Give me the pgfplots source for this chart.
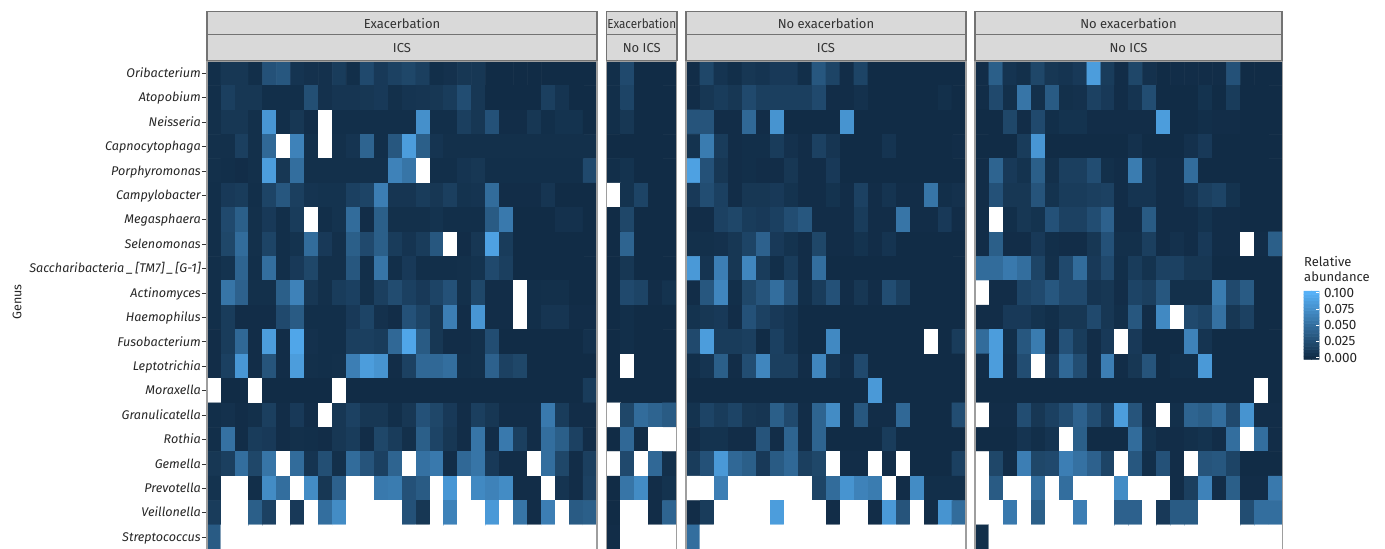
\documentclass[border=0pt]{standalone}
\usepackage{fontspec}
\setmainfont{Fira Sans}
\usepackage{pgfplots}
\pgfplotsset{compat=1.18}
% out of range cells (typed 110) are white, as in the original
\pgfplotsset{
  colormap={abund}{rgb255(0pt)=(17,44,70) rgb255(100pt)=(86,177,247) rgb255(101pt)=(255,255,255) rgb255(110pt)=(255,255,255)},
  panel/.style={
    scale only axis, height=488.4pt, anchor=south west,
    ymin=-0.5, ymax=19.5, y dir=reverse,
    xtick=\empty, ytick=\empty,
    point meta min=0, point meta max=110,
    axis on top,
    axis line style={draw=black!38, line width=1.3pt},
  },
  cells/.style={matrix plot*, shader=faceted, faceted color=mapped color, line width=0.6pt, mesh/cols=#1, point meta=explicit},
}
\newcommand\striplabel[4]{%
  \draw[fill=black!15, draw=black!55, line width=1.3pt] (#1,514.5) rectangle (#2,537.5);
  \draw[fill=black!15, draw=black!55, line width=1.3pt] (#1,488.6) rectangle (#2,514.5);
  \node[text=black!80, font=\fontsize{13}{15}\selectfont] at ({(#1+#2)/2},525) {#3};
  \node[text=black!80, font=\fontsize{13}{15}\selectfont] at ({(#1+#2)/2},500.5) {#4};
}
\begin{document}
\begin{tikzpicture}[x=1pt,y=1pt]
\useasboundingbox (0,0) rectangle (1385,549);

\begin{axis}[panel, at={(207pt,-0.4pt)}, width=390pt, xmin=-0.5, xmax=27.5,
  ytick={0,...,19},
  yticklabels={Oribacterium,Atopobium,Neisseria,Capnocytophaga,Porphyromonas,Campylobacter,Megasphaera,Selenomonas,Saccharibacteria\kern2.2pt\_\kern2.2pt[TM7]\kern2.2pt\_\kern2.2pt[G-1],Actinomyces,Haemophilus,Fusobacterium,Leptotrichia,Moraxella,Granulicatella,Rothia,Gemella,Prevotella,Veillonella,Streptococcus},
  tick align=outside, major tick length=5pt, ytick pos=left,
  y tick style={draw=black!80, line width=0.7pt},
  yticklabel style={font=\itshape\fontsize{12.6}{14}\selectfont, text=black!85, inner sep=1pt, text height=8.5pt, text depth=2.5pt, yshift=-1.2pt},
]
\addplot[cells=28] table[header=false, row sep=crcr, x expr={mod(\coordindex,28)}, y expr={floor((\coordindex+0.5)/28)}, meta index=0] {
2\\8\\8\\2\\28\\32\\6\\4\\4\\12\\2\\22\\10\\16\\20\\14\\2\\4\\8\\8\\0\\0\\0\\0\\0\\0\\0\\0\\
2\\14\\8\\8\\2\\2\\2\\26\\4\\7\\7\\8\\10\\3\\6\\7\\8\\12\\25\\8\\0\\0\\0\\0\\14\\6\\0\\0\\
3\\8\\8\\3\\80\\2\\8\\1\\110\\2\\2\\2\\2\\2\\2\\75\\2\\2\\14\\8\\28\\1\\1\\8\\2\\5\\5\\0\\
3\\3\\14\\3\\45\\110\\65\\3\\110\\3\\6\\42\\2\\32\\85\\38\\6\\3\\3\\3\\3\\3\\3\\3\\3\\3\\3\\3\\
3\\2\\1\\3\\85\\8\\50\\3\\3\\3\\3\\3\\3\\65\\55\\110\\2\\2\\6\\8\\2\\2\\2\\2\\2\\2\\2\\22\\
2\\10\\12\\2\\18\\32\\14\\6\\5\\5\\15\\18\\62\\7\\7\\12\\8\\14\\5\\6\\48\\1\\1\\1\\7\\0\\0\\0\\
2\\22\\38\\3\\10\\2\\12\\110\\2\\5\\48\\1\\38\\3\\3\\3\\5\\2\\2\\2\\35\\58\\0\\0\\0\\4\\4\\0\\
2\\20\\48\\3\\18\\2\\5\\48\\10\\3\\38\\22\\38\\12\\6\\12\\32\\110\\1\\8\\88\\12\\0\\0\\0\\0\\0\\0\\
2\\5\\42\\2\\50\\2\\10\\20\\3\\3\\32\\2\\55\\2\\10\\2\\2\\2\\3\\5\\22\\14\\0\\0\\0\\0\\0\\0\\
2\\55\\40\\3\\3\\38\\65\\8\\3\\12\\15\\3\\14\\24\\15\\10\\18\\28\\3\\20\\1\\1\\110\\2\\3\\3\\0\\0\\
2\\12\\1\\1\\1\\22\\35\\2\\2\\2\\10\\18\\4\\1\\28\\18\\8\\62\\1\\80\\1\\1\\110\\2\\7\\7\\1\\1\\
1\\12\\45\\1\\85\\1\\92\\4\\2\\2\\14\\14\\12\\45\\92\\35\\8\\1\\1\\3\\25\\0\\0\\0\\0\\0\\0\\4\\
1\\15\\80\\1\\30\\1\\85\\3\\2\\3\\62\\85\\78\\1\\16\\45\\45\\50\\2\\3\\40\\16\\20\\0\\0\\0\\0\\0\\
110\\0\\0\\110\\0\\0\\0\\0\\0\\110\\0\\0\\0\\0\\0\\0\\0\\0\\0\\0\\0\\0\\0\\0\\0\\0\\0\\12\\
2\\4\\1\\3\\14\\1\\10\\1\\110\\8\\16\\8\\8\\2\\8\\28\\20\\10\\1\\14\\8\\1\\1\\1\\58\\12\\1\\1\\
2\\52\\1\\12\\10\\1\\3\\2\\1\\8\\12\\1\\20\\12\\3\\38\\18\\8\\1\\55\\1\\58\\14\\1\\50\\38\\16\\1\\
8\\14\\50\\20\\55\\110\\48\\6\\26\\3\\48\\30\\15\\42\\110\\52\\58\\1\\45\\55\\10\\1\\1\\110\\50\\20\\1\\14\\
5\\110\\110\\2\\72\\50\\110\\72\\8\\40\\110\\110\\58\\60\\28\\35\\110\\80\\110\\70\\65\\72\\1\\1\\110\\6\\1\\16\\
12\\110\\110\\38\\16\\110\\10\\110\\50\\72\\110\\110\\110\\110\\28\\8\\110\\65\\110\\110\\82\\110\\55\\1\\62\\110\\35\\38\\
35\\110\\110\\110\\110\\110\\110\\110\\110\\110\\110\\110\\110\\110\\110\\110\\110\\110\\110\\110\\110\\110\\110\\110\\110\\110\\110\\110\\
};
\end{axis}

\begin{axis}[panel, at={(606.5pt,-0.4pt)}, width=70pt, xmin=-0.5, xmax=4.5]
\addplot[cells=5] table[header=false, row sep=crcr, x expr={mod(\coordindex,5)}, y expr={floor((\coordindex+0.5)/5)}, meta index=0] {
2\\22\\0\\0\\0\\
2\\18\\0\\0\\0\\
2\\8\\0\\0\\0\\
0\\0\\0\\0\\0\\
2\\5\\0\\0\\0\\
110\\5\\18\\0\\0\\
0\\20\\0\\0\\0\\
0\\42\\0\\0\\0\\
0\\8\\0\\0\\0\\
0\\22\\18\\1\\5\\
0\\2\\0\\0\\0\\
0\\2\\0\\0\\0\\
0\\110\\0\\0\\0\\
0\\0\\0\\0\\0\\
110\\20\\48\\42\\35\\
0\\45\\0\\110\\110\\
110\\22\\110\\45\\3\\
0\\55\\72\\1\\5\\
0\\110\\110\\1\\42\\
1\\110\\110\\110\\110\\
};
\end{axis}

\begin{axis}[panel, at={(686pt,-0.4pt)}, width=280pt, xmin=-0.5, xmax=19.5]
\addplot[cells=20] table[header=false, row sep=crcr, x expr={mod(\coordindex,20)}, y expr={floor((\coordindex+0.5)/20)}, meta index=0] {
1\\20\\6\\2\\8\\6\\10\\10\\2\\32\\18\\1\\18\\0\\0\\0\\0\\0\\0\\0\\
1\\8\\12\\8\\22\\14\\14\\14\\14\\22\\1\\1\\4\\0\\0\\0\\0\\0\\3\\0\\
30\\30\\1\\1\\45\\1\\78\\0\\0\\0\\0\\78\\0\\0\\0\\0\\0\\0\\0\\0\\
5\\60\\12\\1\\2\\2\\12\\4\\1\\16\\7\\0\\0\\0\\6\\0\\0\\0\\0\\1\\
88\\28\\8\\1\\2\\1\\1\\8\\1\\1\\10\\0\\0\\0\\0\\0\\0\\0\\0\\0\\
10\\25\\15\\1\\8\\8\\10\\5\\1\\1\\5\\1\\16\\1\\6\\1\\1\\55\\2\\4\\
1\\1\\16\\20\\12\\10\\15\\25\\32\\1\\1\\1\\12\\1\\1\\55\\1\\1\\10\\1\\
3\\3\\4\\8\\18\\40\\10\\5\\1\\20\\1\\1\\5\\1\\6\\0\\0\\0\\0\\0\\
82\\6\\62\\8\\68\\12\\2\\12\\1\\50\\0\\0\\0\\0\\0\\0\\0\\0\\0\\0\\
1\\32\\68\\2\\20\\30\\50\\28\\2\\12\\28\\1\\8\\1\\25\\14\\0\\0\\0\\0\\
5\\8\\10\\1\\28\\16\\10\\6\\0\\0\\0\\0\\0\\0\\0\\0\\0\\0\\0\\0\\
22\\85\\12\\12\\14\\0\\15\\6\\0\\0\\70\\0\\0\\0\\0\\0\\0\\110\\0\\12\\
2\\6\\38\\1\\25\\68\\14\\14\\1\\68\\6\\1\\22\\0\\0\\0\\0\\0\\0\\0\\
0\\0\\0\\0\\0\\0\\0\\0\\0\\0\\0\\0\\0\\82\\0\\0\\0\\0\\0\\0\\
5\\18\\12\\18\\8\\7\\38\\22\\1\\42\\72\\0\\32\\1\\1\\45\\0\\0\\0\\25\\
1\\5\\5\\1\\1\\30\\1\\42\\1\\42\\0\\0\\0\\0\\12\\0\\0\\0\\0\\0\\
12\\28\\82\\45\\38\\10\\35\\45\\14\\20\\110\\1\\1\\110\\1\\110\\0\\0\\0\\15\\
110\\110\\62\\110\\110\\110\\110\\110\\110\\18\\48\\78\\65\\60\\110\\1\\72\\2\\2\\2\\
1\\12\\110\\110\\110\\110\\85\\110\\110\\110\\1\\110\\110\\1\\82\\30\\110\\1\\78\\48\\
50\\110\\110\\110\\110\\110\\110\\110\\110\\110\\110\\110\\110\\110\\110\\110\\110\\110\\110\\110\\
};
\end{axis}

\begin{axis}[panel, at={(975pt,-0.4pt)}, width=307.5pt, xmin=-0.5, xmax=21.5]
\addplot[cells=22] table[header=false, row sep=crcr, x expr={mod(\coordindex,22)}, y expr={floor((\coordindex+0.5)/22)}, meta index=0] {
1\\38\\6\\3\\20\\8\\6\\10\\85\\12\\1\\20\\4\\0\\1\\1\\1\\1\\28\\0\\0\\0\\
1\\22\\3\\55\\3\\35\\3\\4\\16\\10\\1\\6\\25\\0\\0\\0\\5\\0\\12\\0\\0\\0\\
0\\0\\20\\1\\22\\2\\5\\5\\1\\1\\1\\1\\1\\85\\0\\0\\2\\1\\1\\0\\0\\0\\
0\\0\\0\\12\\80\\0\\0\\0\\0\\0\\0\\4\\0\\0\\0\\4\\10\\0\\0\\0\\0\\0\\
1\\42\\10\\5\\38\\3\\14\\14\\25\\3\\1\\60\\6\\1\\1\\48\\0\\0\\0\\0\\0\\0\\
1\\28\\8\\8\\30\\5\\12\\12\\14\\16\\1\\6\\6\\1\\1\\6\\14\\18\\5\\0\\0\\0\\
1\\110\\2\\8\\5\\28\\16\\16\\25\\40\\1\\1\\35\\1\\1\\1\\5\\1\\1\\0\\0\\0\\
1\\38\\1\\1\\10\\2\\1\\1\\8\\28\\3\\3\\14\\1\\4\\1\\10\\1\\1\\110\\1\\38\\
48\\48\\58\\50\\18\\3\\22\\48\\10\\22\\2\\12\\5\\16\\16\\8\\8\\0\\0\\0\\0\\0\\
110\\1\\1\\18\\22\\32\\22\\22\\6\\8\\1\\18\\14\\32\\3\\3\\3\\60\\22\\35\\0\\0\\
1\\1\\10\\10\\5\\2\\8\\8\\22\\8\\2\\32\\1\\70\\110\\22\\18\\52\\8\\16\\0\\0\\
48\\85\\2\\32\\60\\1\\28\\12\\1\\10\\110\\10\\0\\0\\0\\65\\6\\0\\0\\0\\0\\0\\
1\\85\\1\\25\\110\\10\\45\\25\\1\\62\\1\\8\\30\\0\\2\\2\\82\\0\\0\\0\\0\\0\\
0\\0\\0\\0\\0\\0\\0\\0\\0\\0\\0\\0\\0\\0\\0\\0\\0\\0\\0\\0\\110\\0\\
110\\1\\1\\25\\8\\15\\25\\40\\25\\10\\85\\30\\1\\110\\3\\42\\38\\50\\22\\78\\1\\1\\
0\\0\\0\\6\\2\\6\\110\\38\\0\\0\\0\\48\\5\\1\\1\\3\\5\\1\\50\\110\\50\\1\\
110\\20\\1\\62\\20\\22\\62\\52\\40\\18\\110\\32\\2\\28\\1\\110\\30\\32\\18\\0\\0\\0\\
110\\35\\110\\110\\50\\110\\50\\110\\110\\110\\72\\110\\110\\110\\1\\14\\65\\1\\38\\1\\1\\58\\
110\\110\\58\\110\\38\\110\\110\\62\\110\\110\\40\\40\\110\\10\\35\\35\\110\\110\\110\\25\\50\\50\\
2\\110\\110\\110\\110\\110\\110\\110\\110\\110\\110\\110\\110\\110\\110\\110\\110\\110\\110\\110\\110\\110\\
};
\end{axis}

% colour legend
\begin{axis}[scale only axis, at={(1304pt,191.3pt)}, anchor=south west, width=15pt, height=65pt,
  xmin=-0.5, xmax=1.5, ymin=0, ymax=0.1, clip=false,
  xtick=\empty, ytick={0,0.025,0.05,0.075,0.1},
  yticklabels={0.000,0.025,0.050,0.075,0.100},
  ytick pos=right, tick align=inside, major tick length=3pt,
  y tick style={draw=white, line width=0.4pt},
  yticklabel style={font=\fontsize{13.5}{15}\selectfont, text=black!85, xshift=1.5pt},
  axis line style={draw=none},
  point meta min=0, point meta max=110,
  axis on top,
]
\addplot[cells=2] table[row sep=crcr, x=x, y=y, meta=z] {
x y z\\
0 0 0\\ 1 0 0\\ 0 0.005 5\\ 1 0.005 5\\ 0 0.01 10\\ 1 0.01 10\\ 0 0.015 15\\ 1 0.015 15\\
0 0.02 20\\ 1 0.02 20\\ 0 0.025 25\\ 1 0.025 25\\ 0 0.03 30\\ 1 0.03 30\\ 0 0.035 35\\ 1 0.035 35\\
0 0.04 40\\ 1 0.04 40\\ 0 0.045 45\\ 1 0.045 45\\ 0 0.05 50\\ 1 0.05 50\\ 0 0.055 55\\ 1 0.055 55\\
0 0.06 60\\ 1 0.06 60\\ 0 0.065 65\\ 1 0.065 65\\ 0 0.07 70\\ 1 0.07 70\\ 0 0.075 75\\ 1 0.075 75\\
0 0.08 80\\ 1 0.08 80\\ 0 0.085 85\\ 1 0.085 85\\ 0 0.09 90\\ 1 0.09 90\\ 0 0.095 95\\ 1 0.095 95\\
0 0.1 100\\ 1 0.1 100\\
};
\end{axis}

\striplabel{207}{597}{Exacerbation}{ICS}
\striplabel{606.5}{677}{\scalebox{0.9}[1]{Exacerbation}}{No ICS}
\striplabel{686}{966}{No exacerbation}{ICS}
\striplabel{975}{1282}{No exacerbation}{No ICS}

\node[rotate=90, text=black!85, font=\fontsize{12.5}{14}\selectfont] at (17,247) {Genus};
\node[anchor=west, inner sep=0pt, text=black!85, font=\fontsize{13}{15}\selectfont] at (1304,287) {Relative};
\node[anchor=west, inner sep=0pt, text=black!85, font=\fontsize{13}{15}\selectfont] at (1304,272) {abundance};
\end{tikzpicture}
\end{document}
